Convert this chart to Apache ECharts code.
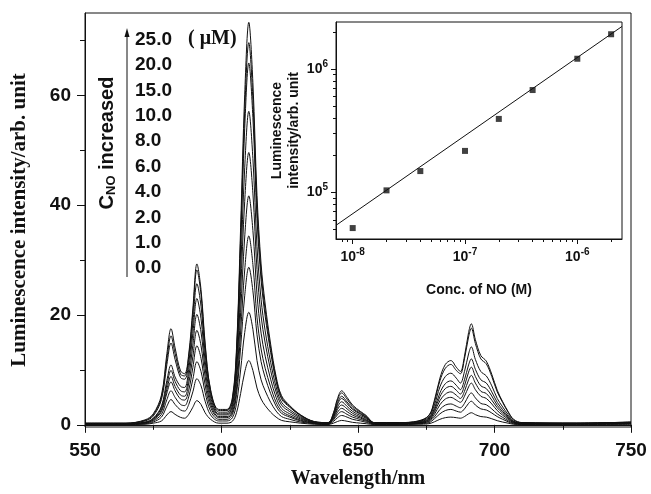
<!DOCTYPE html>
<html>
<head>
<meta charset="utf-8">
<script src="https://cdn.jsdelivr.net/npm/echarts@6/dist/echarts.min.js"></script>
<style>
  html, body { margin: 0; padding: 0; background: #fff; }
  #main { width: 651px; height: 494px; }
</style>
</head>
<body>
<div id="main"></div>
<script>
// wavelength grid (nm), shared by all spectra
var wavelength = [550, 565, 572, 575, 578, 580, 581.5, 583, 585, 586.5,
  588, 589.5, 591, 592.5, 594, 596, 599, 602, 604, 605.5,
  607, 608.5, 610, 611.5, 613, 614.5, 616, 618, 620, 622,
  625, 629, 634, 639, 641, 642.5, 644, 646, 648, 651,
  653, 656, 665, 672, 676, 678, 680, 682, 684, 686,
  687.5, 689, 690.5, 691.5, 693, 695, 697, 699, 701, 703,
  705, 707, 710, 730, 750];

// luminescence intensity for each NO concentration (uM)
var I_0 = [0.05,0.05,0.1,0.3,0.7,1.8,2.4,1.9,1.35,1.2, 1.9,3.2,4.4,3.7,2.2,1.0,0.3,0.3,0.65,2.2, 5.7,9.6,11.7,9.9,6.7,4.7,3.5,2.3,1.4,0.8, 0.55,0.3,0.1,0.05,0.3,0.6,0.8,0.65,0.45,0.3, 0.2,0.05,0.05,0.1,0.2,0.55,1.0,1.3,1.4,1.3, 1.2,1.5,2.0,2.2,1.85,1.5,1.4,1.1,0.75,0.5, 0.3,0.1,0.05,0.05,0.1];
var I_1 = [0.1,0.1,0.2,0.5,1.4,3.4,4.6,3.7,2.7,2.5, 3.7,6.0,8.4,7.1,4.3,1.8,0.7,0.7,1.3,3.9, 10.0,16.8,20.5,17.4,11.7,8.2,6.2,4.1,2.5,1.5, 1.0,0.5,0.2,0.1,0.6,1.3,1.7,1.4,1.0,0.7, 0.45,0.1,0.1,0.2,0.4,1.1,2.0,2.6,2.8,2.5, 2.3,2.9,3.9,4.3,3.6,2.9,2.7,2.15,1.5,1.0, 0.55,0.2,0.1,0.1,0.15];
var I_2 = [0.1,0.1,0.3,0.7,1.9,4.6,6.2,5.0,3.7,3.5, 5.1,8.3,11.5,9.7,5.9,2.5,1.0,1.0,1.9,5.5, 14.1,23.5,28.7,24.4,16.4,11.5,8.6,5.7,3.4,2.1, 1.4,0.7,0.25,0.15,0.85,1.85,2.4,1.9,1.4,0.95, 0.65,0.15,0.15,0.25,0.6,1.45,2.8,3.6,3.8,3.4, 3.1,3.9,5.3,5.8,4.9,3.9,3.65,2.9,2.0,1.35, 0.75,0.3,0.15,0.15,0.2];
var I_4 = [0.15,0.15,0.35,0.85,2.4,5.8,7.8,6.2,4.7,4.5, 6.3,10.4,14.4,12.1,7.3,3.2,1.3,1.3,2.3,6.5, 16.9,28.2,34.4,29.2,19.6,13.8,10.3,6.9,4.1,2.5, 1.65,0.85,0.3,0.2,1.05,2.3,3.0,2.4,1.75,1.2, 0.8,0.2,0.2,0.3,0.75,1.9,3.65,4.7,5.0,4.5, 4.1,5.2,6.9,7.6,6.4,5.2,4.8,3.8,2.6,1.75, 1.0,0.4,0.2,0.2,0.25];
var I_6 = [0.15,0.15,0.4,1.0,2.7,6.5,8.8,7.0,5.4,5.2, 7.6,12.4,17.2,14.4,8.8,3.8,1.5,1.5,2.75,7.9, 20.4,34.2,41.7,35.4,23.8,16.7,12.5,8.3,5.0,3.0, 2.0,1.05,0.35,0.2,1.25,2.8,3.6,2.9,2.1,1.4, 0.95,0.2,0.2,0.35,0.9,2.3,4.4,5.6,6.0,5.4, 4.8,6.1,8.2,9.0,7.6,6.1,5.7,4.5,3.1,2.1, 1.2,0.45,0.2,0.2,0.3];
var I_8 = [0.2,0.2,0.45,1.1,3.1,7.3,9.9,7.9,6.2,6.0, 8.8,14.5,20.1,16.9,10.3,4.4,1.8,1.8,3.3,9.4, 24.3,40.7,49.6,42.2,28.3,19.8,14.9,9.9,6.0,3.6, 2.4,1.25,0.4,0.25,1.45,3.2,4.2,3.35,2.45,1.65, 1.15,0.25,0.25,0.4,1.05,2.65,5.1,6.6,7.0,6.3, 5.6,7.1,9.6,10.5,8.8,7.1,6.6,5.25,3.55,2.4, 1.35,0.55,0.25,0.25,0.35];
var I_10 = [0.2,0.2,0.5,1.2,3.4,8.1,10.9,8.7,7.0,6.8, 10.1,16.6,23.0,19.3,11.7,5.1,2.0,2.0,3.7,10.8, 28.0,46.8,57.1,48.5,32.5,22.8,17.1,11.4,6.9,4.1, 2.75,1.45,0.45,0.3,1.7,3.7,4.8,3.85,2.8,1.9, 1.3,0.3,0.3,0.5,1.2,3.0,5.8,7.5,8.0,7.2, 6.4,8.2,10.9,12.0,10.1,8.2,7.6,6.0,4.1,2.75, 1.55,0.6,0.3,0.25,0.4];
var I_15 = [0.25,0.25,0.7,1.6,4.6,11.0,14.9,11.9,8.6,8.3, 11.3,18.5,25.7,21.6,13.1,5.7,2.3,2.3,4.3,12.5, 32.3,54.0,65.9,56.0,37.6,26.4,19.8,13.2,7.9,4.7, 3.2,1.65,0.55,0.35,1.8,4.0,5.2,4.15,3.0,2.05, 1.4,0.35,0.35,0.6,1.4,3.6,6.9,8.8,9.4,8.5, 7.6,9.7,12.9,14.2,11.9,9.7,8.9,7.1,4.8,3.25, 1.85,0.7,0.35,0.3,0.45];
var I_20 = [0.3,0.3,0.8,1.8,5.0,12.0,16.2,13.0,9.2,8.9, 12.4,20.3,28.2,23.7,14.4,6.2,2.6,2.6,4.7,13.2, 34.1,57.1,69.6,59.2,39.7,27.8,20.9,13.9,8.4,5.0, 3.35,1.75,0.55,0.4,2.0,4.5,5.8,4.65,3.35,2.25, 1.55,0.4,0.4,0.65,1.65,4.2,8.0,10.3,11.0,9.9, 9.3,12.0,16.0,17.6,14.8,12.0,11.1,8.8,6.0,4.05, 2.3,0.9,0.4,0.3,0.5];
var I_25 = [0.3,0.3,0.9,2.0,5.4,13.0,17.5,14.0,9.8,9.3, 12.9,21.1,29.3,24.6,14.9,6.4,2.8,2.8,5.0,13.9, 35.9,60.1,73.3,62.3,41.8,29.3,22.0,14.7,8.8,5.3, 3.5,1.8,0.6,0.4,2.2,4.8,6.2,5.0,3.6,2.4, 1.7,0.4,0.4,0.7,1.75,4.5,8.5,11.0,11.7,10.5, 9.7,12.5,16.8,18.4,15.5,12.6,11.6,9.2,6.3,4.2, 2.4,1.0,0.4,0.3,0.5];

var concLabels = ['25.0', '20.0', '15.0', '10.0', '8.0', '6.0', '4.0', '2.0', '1.0', '0.0'];
var spectra = [I_25, I_20, I_15, I_10, I_8, I_6, I_4, I_2, I_1, I_0];

// main axis ticks
var yMajor = [0, 20, 40, 60];
var yMinor = [10, 30, 50, 70];

// inset: log-log calibration
var noConc = [1e-8, 2e-8, 4e-8, 1e-7, 2e-7, 4e-7, 1e-6, 2e-6];
var lumInt = [5.15e4, 1.04e5, 1.49e5, 2.17e5, 3.94e5, 6.75e5, 1.21e6, 1.91e6];
var fitX = [7.1e-9, 2.5e-6];
var fitY = [5.42e4, 2.21e6];
var insetXMajor = [1e-8, 1e-7, 1e-6];
var insetXMinor = [8e-9, 9e-9, 2e-8, 3e-8, 4e-8, 5e-8, 6e-8, 7e-8, 8e-8, 9e-8,
  2e-7, 3e-7, 4e-7, 5e-7, 6e-7, 7e-7, 8e-7, 9e-7, 2e-6];
var insetYMajor = [1e5, 1e6];
var insetYMinor = [5e4, 6e4, 7e4, 8e4, 9e4, 2e5, 3e5, 4e5, 5e5, 6e5, 7e5, 8e5, 9e5, 2e6];

var chart = echarts.init(document.getElementById('main'));

var sans = 'Liberation Sans';
var serif = 'Liberation Serif';

function powLabel(v) {
  return '10{sup|' + Math.round(Math.log10(v)) + '}';
}

var series = [];
spectra.forEach(function (arr, i) {
  series.push({
    name: concLabels[i],
    type: 'line',
    xAxisIndex: 0,
    yAxisIndex: 0,
    showSymbol: false,
    smooth: 0.35,
    lineStyle: { color: '#111', width: 1 },
    data: wavelength.map(function (w, j) { return [w, arr[j]]; })
  });
});

series.push({
  type: 'line',
  xAxisIndex: 1,
  yAxisIndex: 2,
  showSymbol: false,
  lineStyle: { color: '#111', width: 1 },
  data: [[fitX[0], fitY[0]], [fitX[1], fitY[1]]]
});
series.push({
  type: 'scatter',
  xAxisIndex: 1,
  yAxisIndex: 2,
  symbol: 'rect',
  symbolSize: 6,
  itemStyle: { color: '#111' },
  data: noConc.map(function (c, i) { return [c, lumInt[i]]; })
});

// annotations: arrow + concentration list
var graphic = [
  {
    type: 'line',
    shape: { x1: 127, y1: 36, x2: 127, y2: 277 },
    style: { stroke: '#111', lineWidth: 1 }
  },
  {
    type: 'polygon',
    shape: { points: [[127, 28], [124.5, 37], [129.5, 37]] },
    style: { fill: '#111' }
  },
  {
    type: 'text',
    x: 107, y: 143,
    rotation: Math.PI / 2,
    style: {
      text: 'C{sub|NO} increased',
      font: 'bold 20px ' + sans,
      fill: '#111',
      align: 'center',
      verticalAlign: 'middle',
      rich: {
        sub: { fontSize: 13, fontWeight: 'bold', fontFamily: sans, verticalAlign: 'bottom', padding: [8, 0, 0, 0] }
      }
    }
  },
  {
    type: 'text',
    x: 188, y: 39,
    style: {
      text: '( \u03bcM)',
      font: 'bold 20px ' + serif,
      fill: '#111',
      verticalAlign: 'middle'
    }
  }
];
concLabels.forEach(function (t, i) {
  graphic.push({
    type: 'text',
    x: 135, y: 39.5 + i * 25.4,
    style: { text: t, font: 'bold 19px ' + sans, fill: '#111', verticalAlign: 'middle' }
  });
});

var axisLineStyle = { color: '#111', width: 1 };

option = {
  animation: false,
  backgroundColor: '#fff',
  grid: [
    { left: 85, right: 20, top: 13, bottom: 66, show: true, borderColor: '#111', borderWidth: 1 },
    { left: 336, right: 29, top: 22, bottom: 255, show: true, borderColor: '#111', borderWidth: 1, backgroundColor: '#fff' }
  ],
  xAxis: [
    {
      gridIndex: 0,
      type: 'value',
      min: 550, max: 750, interval: 50,
      name: 'Wavelength/nm',
      nameLocation: 'middle',
      nameGap: 42,
      nameTextStyle: { fontFamily: serif, fontWeight: 'bold', fontSize: 20, color: '#111' },
      axisLine: { lineStyle: axisLineStyle },
      axisTick: { length: 8, lineStyle: axisLineStyle },
      minorTick: { show: true, splitNumber: 2, length: 5, lineStyle: axisLineStyle },
      axisLabel: { margin: 14, fontFamily: sans, fontWeight: 'bold', fontSize: 19, color: '#111' },
      splitLine: { show: false }
    },
    {
      gridIndex: 1,
      type: 'log',
      min: fitX[0], max: fitX[1],
      position: 'bottom',
      name: 'Conc. of NO (M)',
      nameLocation: 'middle',
      nameGap: 44,
      nameTextStyle: { fontFamily: sans, fontWeight: 'bold', fontSize: 14, color: '#111' },
      axisLine: { lineStyle: axisLineStyle },
      axisTick: { length: 5, customValues: insetXMajor, lineStyle: axisLineStyle },
      axisLabel: {
        margin: 8, customValues: insetXMajor, formatter: powLabel,
        fontFamily: sans, fontWeight: 'bold', fontSize: 14, color: '#111', lineHeight: 20,
        rich: { sup: { fontFamily: sans, fontWeight: 'bold', fontSize: 10, verticalAlign: 'top', lineHeight: 20 } }
      },
      splitLine: { show: false }
    },
    {
      gridIndex: 1,
      type: 'log',
      min: fitX[0], max: fitX[1],
      position: 'bottom',
      offset: 0,
      axisLine: { show: false },
      axisTick: { length: 3, customValues: insetXMinor, lineStyle: axisLineStyle },
      axisLabel: { show: false },
      splitLine: { show: false }
    }
  ],
  yAxis: [
    {
      gridIndex: 0,
      type: 'value',
      min: -0.4, max: 75,
      name: 'Luminescence intensity/arb. unit',
      nameLocation: 'middle',
      nameRotate: 90,
      nameGap: 55,
      nameTextStyle: { fontFamily: serif, fontWeight: 'bold', fontSize: 21, color: '#111' },
      axisLine: { lineStyle: axisLineStyle },
      axisTick: { length: 8, customValues: yMajor, lineStyle: axisLineStyle },
      axisLabel: { margin: 14, customValues: yMajor, fontFamily: sans, fontWeight: 'bold', fontSize: 19, color: '#111' },
      splitLine: { show: false }
    },
    {
      gridIndex: 0,
      type: 'value',
      min: -0.4, max: 75,
      position: 'left',
      offset: 0,
      axisLine: { show: false },
      axisTick: { length: 5, customValues: yMinor, lineStyle: axisLineStyle },
      axisLabel: { show: false },
      splitLine: { show: false }
    },
    {
      gridIndex: 1,
      type: 'log',
      min: 4.2e4, max: 2.4e6,
      position: 'left',
      name: 'Luminescence\nintensity/arb. unit',
      nameLocation: 'middle',
      nameRotate: 90,
      nameGap: 31,
      nameTextStyle: { fontFamily: sans, fontWeight: 'bold', fontSize: 14, color: '#111', lineHeight: 17 },
      axisLine: { lineStyle: axisLineStyle },
      axisTick: { length: 5, customValues: insetYMajor, lineStyle: axisLineStyle },
      axisLabel: {
        margin: 8, customValues: insetYMajor, formatter: powLabel,
        fontFamily: sans, fontWeight: 'bold', fontSize: 14, color: '#111', lineHeight: 20,
        rich: { sup: { fontFamily: sans, fontWeight: 'bold', fontSize: 10, verticalAlign: 'top', lineHeight: 20 } }
      },
      splitLine: { show: false }
    },
    {
      gridIndex: 1,
      type: 'log',
      min: 4.2e4, max: 2.4e6,
      position: 'left',
      offset: 0,
      axisLine: { show: false },
      axisTick: { length: 3, customValues: insetYMinor, lineStyle: axisLineStyle },
      axisLabel: { show: false },
      splitLine: { show: false }
    }
  ],
  graphic: graphic,
  series: series
};

chart.setOption(option);
</script>
</body>
</html>
